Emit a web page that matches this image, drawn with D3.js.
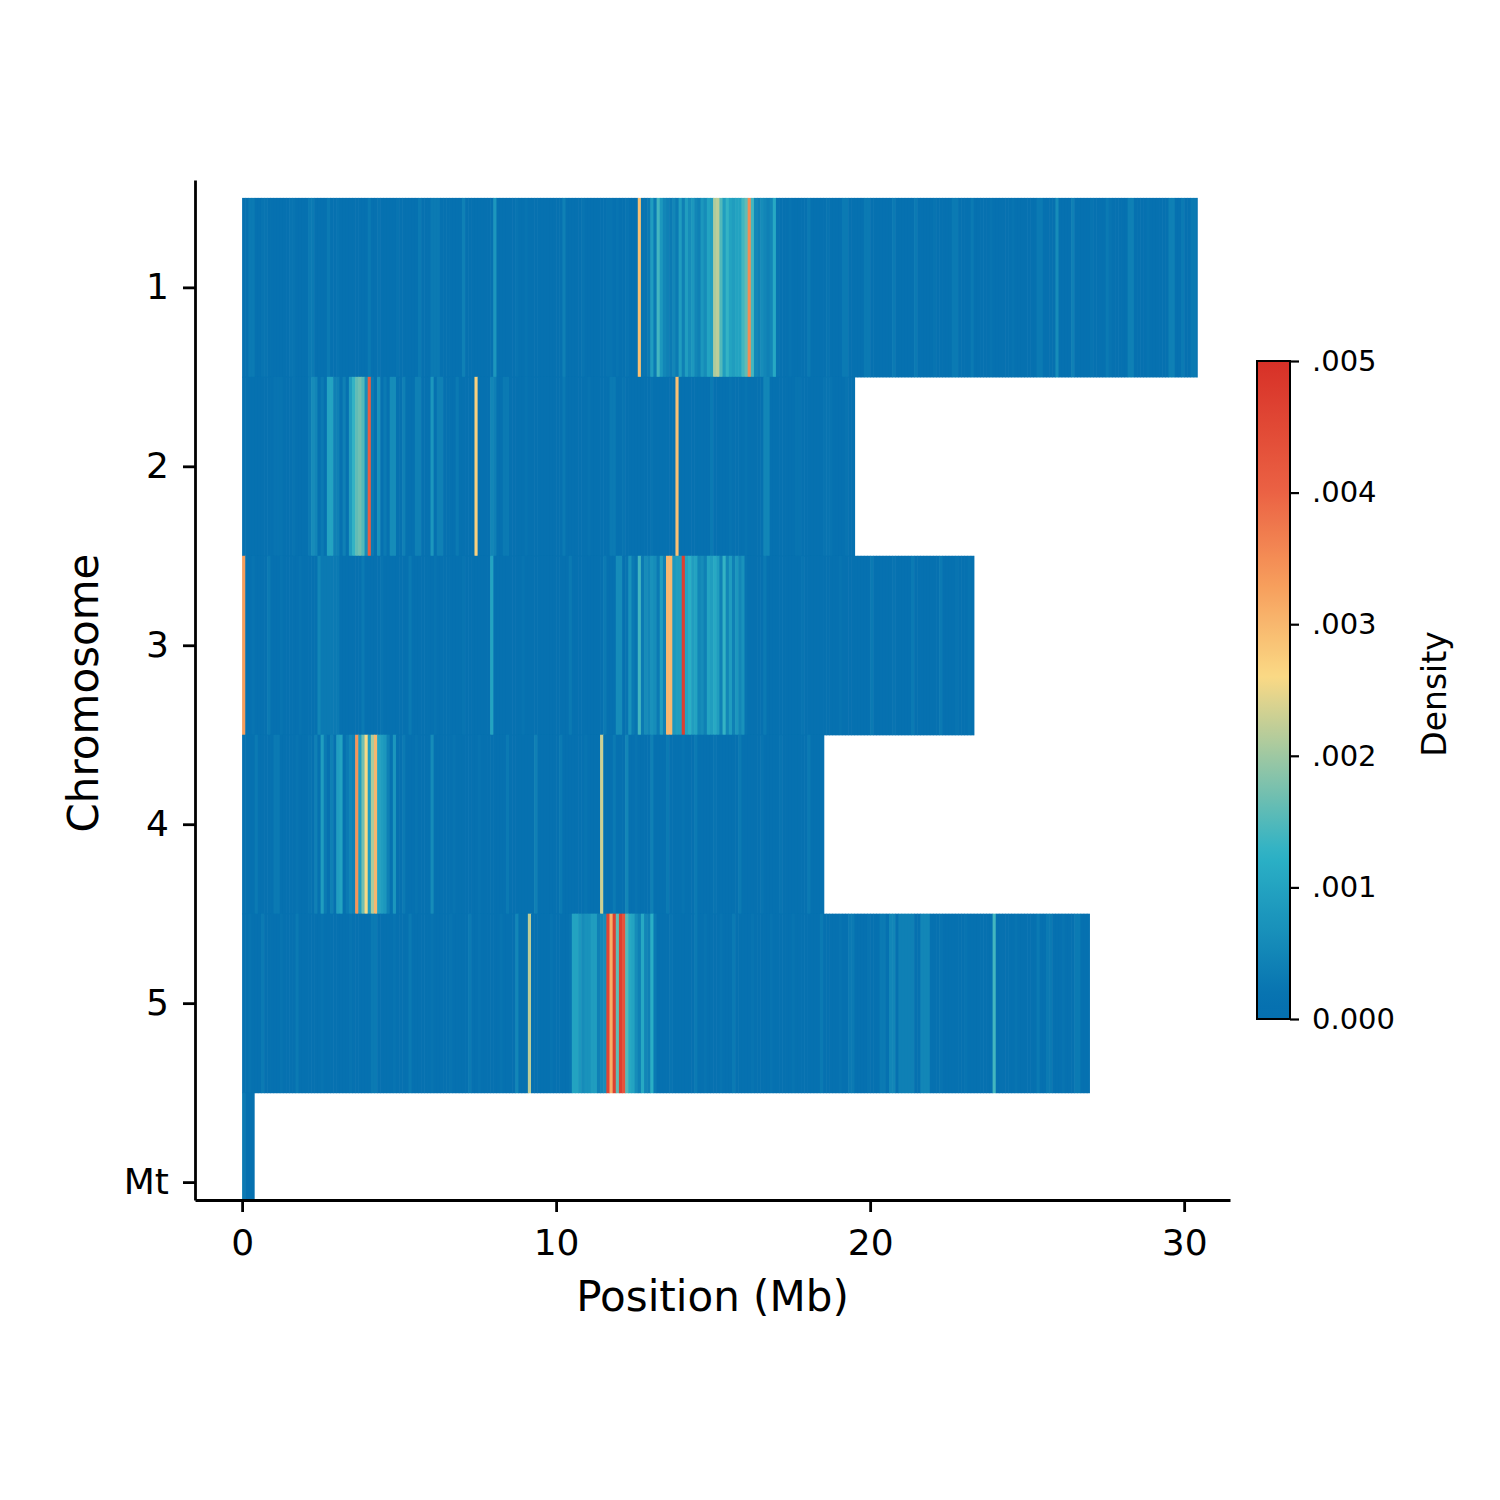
<!DOCTYPE html>
<html>
<head>
<meta charset="utf-8">
<script src="https://cdn.jsdelivr.net/npm/d3@7"></script>
<style>
  body { margin: 0; background: #fff; }
  svg { display: block; font-family: "DejaVu Sans", sans-serif; }
</style>
</head>
<body>
<svg id="chart" width="1500" height="1500"></svg>
<script>
// chromosome names and lengths (Mb)
const chromosomes = ["1", "2", "3", "4", "5", "Mt"];
const chromLengths = [30.43, 19.52, 23.31, 18.54, 27.0, 0.4];
const binSize = 0.1; // 100 kb windows

// density per window, in units of 1e-4
const chr1Density = [
  1,1,3,3,1,1,2,2,1,1, 1,1,1,1,1,2,2,1,1,1,
  1,3,3,1,1,1,1,3,1,1, 2,1,1,1,1,1,1,1,1,1,
  3,1,1,2,1,1,1,1,1,2, 1,1,1,1,1,1,3,1,1,1,
  3,3,3,1,1,1,1,1,1,1, 4,1,1,1,1,1,1,1,1,1,
  8,1,1,1,1,1,1,2,1,1, 2,1,1,1,1,1,1,1,1,1,
  1,1,4,1,1,1,1,1,2,1, 1,1,1,1,1,1,2,2,1,2,
  1,1,2,1,1,1,29,2,2,3, 9,3,14,8,5,4,3,5,3,9,
  4,9,6,8,5,4,8,6,10,9, 21,22,15,9,13,10,9,10,10,14,
  16,35,14,5,4,6,5,4,5,11, 2,1,1,1,2,1,1,1,1,1,
  3,1,1,1,1,1,2,1,1,1, 1,3,3,1,1,1,1,1,3,3,
  1,1,1,1,1,1,1,3,1,1, 1,1,1,1,3,1,1,1,1,1,
  2,1,1,1,1,1,3,3,1,1, 1,1,3,1,1,1,1,1,2,1,
  1,1,1,1,1,2,1,1,1,1, 1,1,1,3,3,1,1,1,1,6,
  1,1,1,1,4,1,1,1,1,1, 2,1,1,1,1,3,2,1,1,1,
  1,1,4,4,1,1,1,1,2,1, 1,1,1,1,1,4,4,1,1,3,
  1,1,3,3,1
];
const chr2Density = [
  1,1,1,1,1,1,1,1,1,1, 2,2,2,1,1,1,2,1,1,1,
  1,3,6,5,1,3,1,10,10,4, 4,1,4,1,9,13,16,17,15,6,
  41,3,1,7,1,3,1,6,6,1, 1,4,1,1,1,4,4,1,1,1,
  8,1,4,4,1,1,1,1,3,1, 1,1,1,1,27,1,1,1,1,5,
  4,1,1,3,3,1,1,1,1,1, 2,1,1,1,1,1,1,1,1,1,
  1,1,3,1,1,1,1,1,1,1, 2,1,1,1,1,1,1,3,3,1,
  1,2,1,1,1,1,1,1,1,1, 2,1,1,1,1,1,1,1,29,1,
  1,1,1,1,1,1,1,1,1,3, 1,1,1,1,1,2,1,1,1,1,
  2,1,1,1,1,1,5,5,1,1, 1,1,1,1,1,1,2,2,1,1,
  1,1,1,1,1,2,2,2,1,1, 1,1,2,1,1,1
];
const chr3Density = [
  33,1,1,2,1,1,1,1,3,1, 1,1,2,1,1,1,1,1,2,1,
  1,1,1,1,5,3,3,3,3,3, 3,1,1,1,1,1,1,1,3,1,
  1,1,1,1,2,1,1,1,1,1, 1,1,1,3,1,1,1,1,1,1,
  1,2,1,1,1,1,1,1,1,1, 2,1,1,1,1,1,1,1,1,10,
  1,1,1,1,1,1,1,1,1,2, 1,1,1,1,1,1,1,1,1,1,
  1,1,1,1,3,1,1,1,1,1, 1,1,1,1,1,3,1,1,1,6,
  6,1,2,7,3,2,14,3,6,5, 7,6,3,9,4,30,30,8,9,9,
  47,10,12,9,10,5,6,4,10,9, 11,9,4,13,5,9,4,8,5,7,
  2,1,1,1,1,1,3,1,1,1, 1,1,1,1,1,1,1,1,2,1,
  1,1,1,1,1,1,1,1,1,1, 2,1,1,1,1,1,1,1,1,1,
  3,1,1,1,1,1,1,2,1,1, 1,1,1,3,1,1,1,1,1,1,
  1,1,3,1,1,1,1,2,1,1, 1,2,1,1
];
const chr4Density = [
  1,1,1,1,3,1,1,1,1,1, 3,3,1,1,1,1,1,2,1,1,
  1,2,1,4,1,9,3,1,4,1, 9,10,1,3,5,4,34,9,17,26,
  9,21,30,10,9,8,4,1,8,1, 1,3,1,1,1,2,1,1,1,1,
  6,1,1,1,1,1,1,2,1,1, 1,1,1,1,1,2,1,1,1,1,
  1,1,1,1,3,1,1,1,1,1, 1,1,1,4,1,1,1,1,1,1,
  1,3,1,1,1,1,1,1,1,2, 1,1,1,1,23,1,1,1,3,1,
  1,1,5,1,1,2,1,1,1,1, 4,1,1,1,1,3,1,1,1,1,
  2,1,1,1,3,1,1,1,1,1, 2,1,1,1,1,1,1,1,3,1,
  1,1,1,1,1,2,1,1,1,1, 1,2,1,1,1,1,1,1,1,1,
  3,1,1,1,1,1
];
const chr5Density = [
  1,1,2,1,1,1,3,1,1,1, 1,1,2,1,1,1,1,3,1,1,
  1,1,1,1,1,2,1,1,1,1, 1,1,1,1,2,1,1,1,1,1,
  1,3,3,1,1,1,1,1,2,1, 1,1,1,3,1,1,1,1,1,1,
  2,1,1,1,1,1,2,1,1,1, 1,1,3,1,1,2,1,1,1,1,
  1,1,2,1,1,1,1,5,1,1, 1,22,1,1,1,1,1,1,2,1,
  1,1,1,1,2,10,10,8,6,7, 7,9,9,4,5,6,46,31,47,16,
  47,43,15,11,10,6,4,11,5,4, 12,3,1,1,1,1,2,1,1,1,
  1,1,1,1,3,1,1,2,1,1, 1,1,2,1,1,1,3,1,1,1,
  1,1,2,1,1,1,1,1,2,1, 1,1,1,1,1,2,1,1,1,1,
  1,1,1,1,3,1,1,1,1,1, 2,1,1,3,3,1,1,1,1,2,
  1,1,1,3,3,1,5,5,1,4, 4,4,4,4,1,1,5,5,5,1,
  1,1,2,1,1,1,1,1,1,1, 2,1,1,1,1,1,1,1,1,14,
  1,1,1,1,1,1,2,1,1,1, 1,1,1,3,1,1,3,3,1,1,
  1,2,1,1,1,3,3,1,1,1
];
const mtDensity = [3, 1, 1, 1];

const xTicks = [0, 10, 20, 30];
const cbarTicks = [0, 0.001, 0.002, 0.003, 0.004, 0.005];
const cbarTickLabels = ["0.000", ".001", ".002", ".003", ".004", ".005"];

const densities = [chr1Density, chr2Density, chr3Density, chr4Density, chr5Density, mtDensity];

const svg = d3.select("#chart");
svg.append("rect").attr("width", 1500).attr("height", 1500).attr("fill", "#fff");

const plot = { left: 195, right: 1230, top: 180, bottom: 1200 };

const x = d3.scaleLinear().domain([-1.5, 31.46]).range([plot.left, plot.right]);
const y = d3.scaleLinear().domain([-0.6, 5.1]).range([plot.top, plot.bottom]);

const color = d3.scaleLinear()
  .domain([0, 0.00015, 0.00125, 0.0026, 0.0033, 0.004, 0.005])
  .range(["#0570b0", "#0671b0", "#2cb2c6", "#fad985", "#f79e5c", "#eb6244", "#d73027"])
  .clamp(true);

svg.append("clipPath").attr("id", "plotclip")
  .append("rect")
  .attr("x", plot.left).attr("y", plot.top)
  .attr("width", plot.right - plot.left).attr("height", plot.bottom - plot.top);

const bins = densities.flatMap((vals, ci) => vals.map((v, i) => ({
  chrom: ci,
  start: i * binSize,
  end: Math.min((i + 1) * binSize, chromLengths[ci]),
  value: v / 10000,
  last: i === vals.length - 1
})));

svg.append("g")
  .attr("clip-path", "url(#plotclip)")
  .selectAll("rect")
  .data(bins)
  .join("rect")
  .attr("x", d => x(d.start))
  .attr("y", d => y(d.chrom - 0.5))
  .attr("width", d => x(d.end) - x(d.start) + (d.last ? 0 : 0.6))
  .attr("height", d => y(d.chrom + 0.5) - y(d.chrom - 0.5) + 0.6)
  .attr("fill", d => color(d.value));

// axes
const xAxis = svg.append("g")
  .attr("transform", `translate(0,${plot.bottom})`)
  .call(d3.axisBottom(x).tickValues(xTicks).tickFormat(d3.format("d"))
    .tickSize(12).tickSizeOuter(0).tickPadding(17));

const yAxis = svg.append("g")
  .attr("transform", `translate(${plot.left},0)`)
  .call(d3.axisLeft(y).tickValues(d3.range(chromosomes.length))
    .tickFormat(i => chromosomes[i])
    .tickSize(12).tickSizeOuter(0).tickPadding(14));

[xAxis, yAxis].forEach(g => {
  g.select(".domain").attr("stroke", "#000").attr("stroke-width", 2.8);
  g.selectAll(".tick line").attr("stroke", "#000").attr("stroke-width", 2.8);
  g.selectAll(".tick text").attr("fill", "#000")
    .style("font-family", "DejaVu Sans").style("font-size", "36px");
});

svg.append("text")
  .attr("x", (x(-1.5) + x(31.46)) / 2)
  .attr("y", 1311)
  .attr("text-anchor", "middle")
  .style("font-size", "42px")
  .text("Position (Mb)");

svg.append("text")
  .attr("transform", `translate(98,693) rotate(-90)`)
  .attr("text-anchor", "middle")
  .style("font-size", "42px")
  .text("Chromosome");

// colorbar
const cb = { x: 1257, y: 361, w: 33, h: 658 };
const cbScale = d3.scaleLinear().domain([0, 0.005]).range([cb.y + cb.h, cb.y]);

const grad = svg.append("defs").append("linearGradient")
  .attr("id", "cbgrad")
  .attr("x1", 0).attr("y1", 1).attr("x2", 0).attr("y2", 0);
grad.selectAll("stop")
  .data(d3.range(0, 1.0001, 0.02))
  .join("stop")
  .attr("offset", t => t)
  .attr("stop-color", t => color(t * 0.005));

svg.append("rect")
  .attr("x", cb.x).attr("y", cb.y).attr("width", cb.w).attr("height", cb.h)
  .attr("fill", "url(#cbgrad)")
  .attr("stroke", "#000").attr("stroke-width", 2);

const cbAxis = svg.append("g")
  .attr("transform", `translate(${cb.x + cb.w},0)`)
  .call(d3.axisRight(cbScale).tickValues(cbarTicks)
    .tickFormat((d, i) => cbarTickLabels[i])
    .tickSize(9).tickSizeOuter(0).tickPadding(13));
cbAxis.select(".domain").remove();
cbAxis.selectAll(".tick line").attr("stroke", "#000").attr("stroke-width", 2.2);
cbAxis.selectAll(".tick text").attr("fill", "#000")
  .style("font-family", "DejaVu Sans").style("font-size", "29px");

svg.append("text")
  .attr("transform", `translate(1446,694) rotate(-90)`)
  .attr("text-anchor", "middle")
  .style("font-size", "33px")
  .text("Density");
</script>
</body>
</html>
